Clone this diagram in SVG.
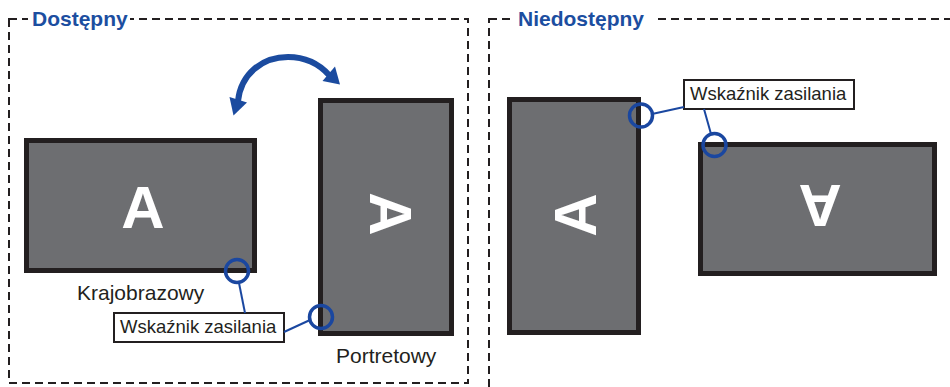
<svg xmlns="http://www.w3.org/2000/svg" width="950" height="387" viewBox="0 0 950 387">
<style>
.frame{fill:none;stroke:#231f20;stroke-width:2;stroke-dasharray:8 5}
.mon{fill:#6d6e71;stroke:#231f20;stroke-width:5}
.big{font-family:"Liberation Sans",Arial,sans-serif;font-weight:bold;font-size:60px;fill:#ffffff;text-anchor:middle}
.title{font-family:"Liberation Sans",Arial,sans-serif;font-weight:bold;font-size:21px;fill:#1c4ea0}
.cap{font-family:"Liberation Sans",Arial,sans-serif;font-size:21px;fill:#231f20}
.lbl{font-family:"Liberation Sans",Arial,sans-serif;font-size:18.5px;fill:#231f20}
.lbox{fill:#ffffff;stroke:#231f20;stroke-width:2}
.led{fill:none;stroke:#1a47a0;stroke-width:3.5}
.lead{fill:none;stroke:#1a47a0;stroke-width:2}
</style>
<rect width="950" height="387" fill="#ffffff"/>
<g id="frame-left">
<rect class="frame" x="9" y="19" width="459" height="364"/>
<rect x="28" y="6" width="102" height="26" fill="#ffffff"/>
<text class="title" x="32" y="26">Dostępny</text>
</g>
<g id="frame-right">
<rect class="frame" x="489" y="19" width="480" height="380"/>
<rect x="510" y="6" width="143" height="26" fill="#ffffff"/>
<text class="title" x="518" y="26">Niedostępny</text>
</g>
<g id="landscape">
<rect class="mon" x="26.5" y="140.5" width="228" height="130"/>
<text class="big" x="143" y="228">A</text>
<text class="cap" x="77" y="300">Krajobrazowy</text>
</g>
<g id="portrait">
<rect class="mon" x="320.5" y="100.5" width="131" height="233"/>
<text class="big" x="391.5" y="235.5" transform="rotate(90 391.5 214)">A</text>
<text class="cap" x="336" y="363">Portretowy</text>
</g>
<g id="portrait-wrong">
<rect class="mon" x="509.5" y="99.5" width="129" height="233"/>
<text class="big" x="574.5" y="236.5" transform="rotate(-90 574.5 215)">A</text>
</g>
<g id="landscape-wrong">
<rect class="mon" x="700.5" y="144.5" width="234" height="129"/>
<text class="big" x="820" y="227.5" transform="rotate(180 820 206)">A</text>
</g>
<g id="rotate-arrow" fill="#1b4b9f">
<path d="M238,101 C241,74 262,57 288,57 C306,57 320,65 329,75" fill="none" stroke="#1b4b9f" stroke-width="6"/>
<polygon points="229.5,97 247,102.5 233.5,115.5"/>
<polygon points="322.5,81 340,84.5 335,66.5"/>
</g>
<g id="label-left">
<rect class="lbox" x="114" y="313" width="170" height="29"/>
<text class="lbl" x="120" y="333">Wskaźnik zasilania</text>
</g>
<g id="label-right">
<rect class="lbox" x="684" y="80" width="170" height="29"/>
<text class="lbl" x="690" y="100">Wskaźnik zasilania</text>
</g>
<g id="indicators">
<circle class="led" cx="237" cy="271" r="11.5"/>
<circle class="led" cx="321" cy="317" r="11.5"/>
<circle class="led" cx="641" cy="115.5" r="11.5"/>
<circle class="led" cx="714.5" cy="145" r="11.5"/>
</g>
<g id="connectors">
<line class="lead" x1="239" y1="283" x2="245" y2="313"/>
<line class="lead" x1="284" y1="332" x2="310" y2="320"/>
<line class="lead" x1="652" y1="114" x2="684" y2="107"/>
<line class="lead" x1="704" y1="109" x2="711" y2="134"/>
</g>
</svg>
